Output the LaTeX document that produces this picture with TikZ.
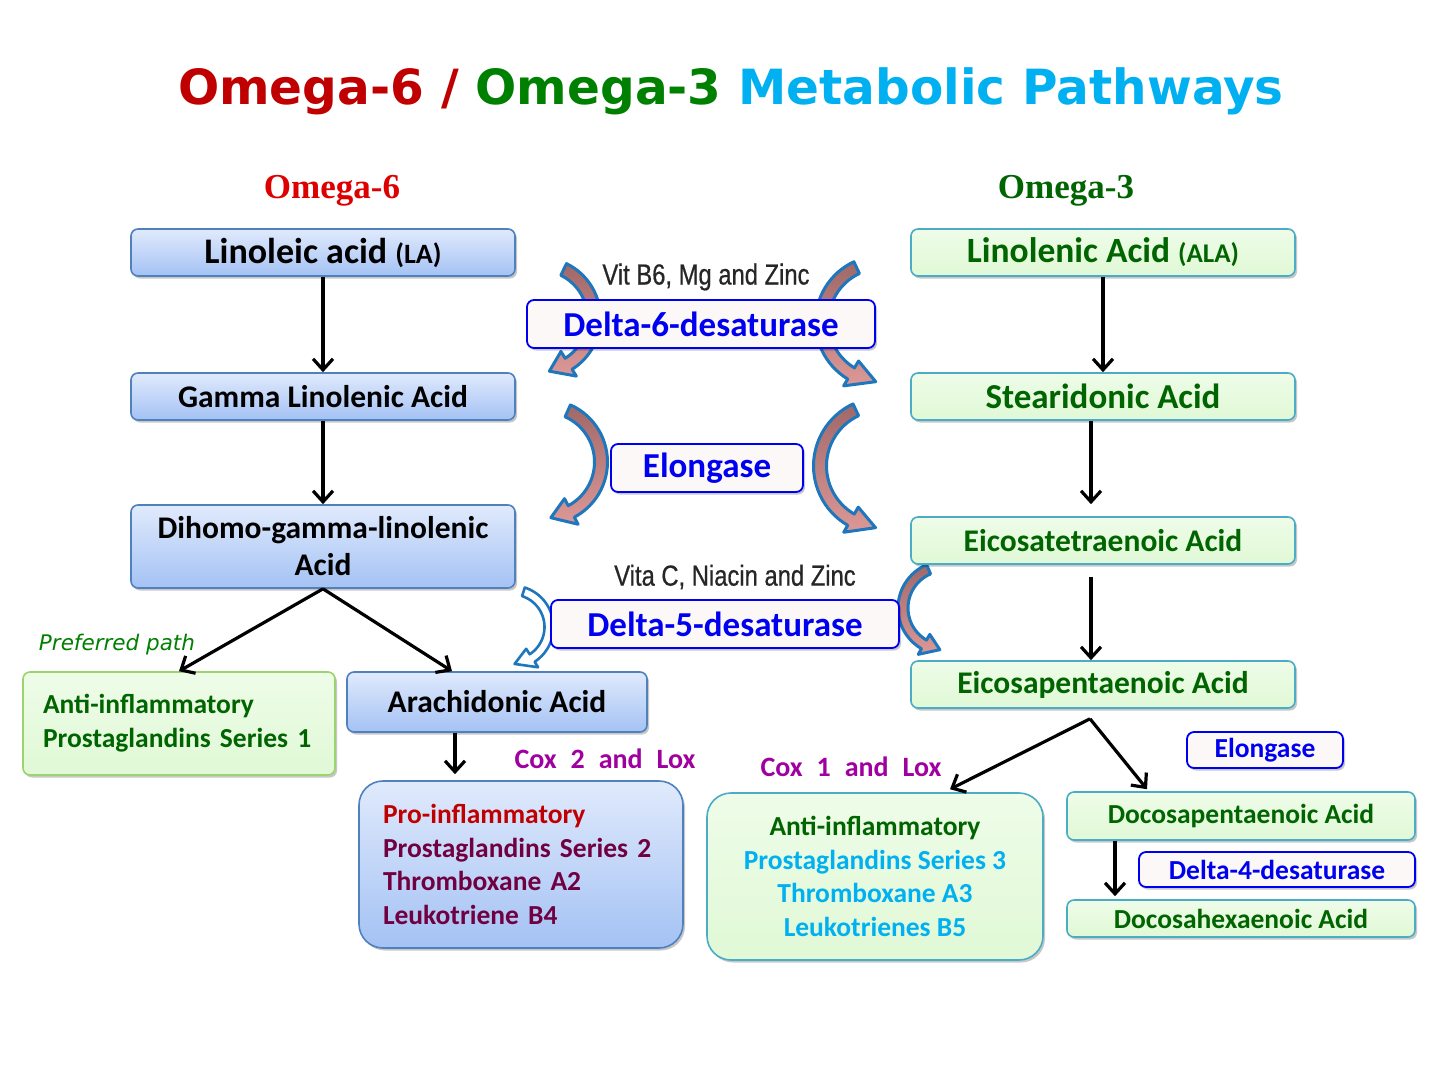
\documentclass[tikz,border=0pt]{standalone}
\usepackage{fontspec}
\setmainfont{Carlito}
\newfontfamily\titlef{DejaVu Sans}
\newfontfamily\headf{Liberation Serif}
\newfontfamily\narrowf[FakeStretch=0.82,FakeBold=0.6]{Liberation Sans}
\usetikzlibrary{shadows,calc,arrows.meta}
\definecolor{ttlred}{RGB}{192,0,0}
\definecolor{ttlgreen}{RGB}{0,128,0}
\definecolor{ttlblue}{RGB}{0,176,240}
\definecolor{hred}{RGB}{222,0,0}
\definecolor{hgreen}{RGB}{0,100,0}
\definecolor{dkgreen}{RGB}{0,100,0}
\definecolor{ltblue}{RGB}{0,176,240}
\definecolor{prored}{RGB}{192,0,0}
\definecolor{maroon}{RGB}{112,0,64}
\definecolor{coxpurple}{RGB}{160,0,160}
\definecolor{prefgreen}{RGB}{0,128,0}
\definecolor{o6border}{RGB}{79,129,189}
\definecolor{o6top}{RGB}{224,234,252}
\definecolor{o6bot}{RGB}{164,194,244}
\definecolor{o3border}{RGB}{75,172,198}
\definecolor{o3top}{RGB}{238,252,232}
\definecolor{o3bot}{RGB}{224,249,214}
\definecolor{lgborder}{RGB}{155,211,110}
\definecolor{enzblue}{RGB}{0,0,240}
\definecolor{enzfill}{RGB}{253,248,248}
\definecolor{arrblue}{RGB}{30,118,188}
\definecolor{arrtop}{RGB}{160,104,104}
\definecolor{arrbot}{RGB}{220,152,150}
\definecolor{vitgray}{RGB}{38,38,38}
\newcommand\carrow[9]{%
 \path[#9] plot[domain=#4:#5,samples=30,variable=\t] ({#1+(#3+#7/2)*cos(\t)},{#2+(#3+#7/2)*sin(\t)})
 -- ({#1+(#3+#8/2)*cos(#5)},{#2+(#3+#8/2)*sin(#5)})
 -- ({#1+#3*cos(#6)},{#2+#3*sin(#6)})
 -- ({#1+(#3-#8/2)*cos(#5)},{#2+(#3-#8/2)*sin(#5)})
 -- plot[domain=#5:#4,samples=30,variable=\t] ({#1+(#3-#7/2)*cos(\t)},{#2+(#3-#7/2)*sin(\t)})
 -- cycle;}
\tikzset{
 box/.style={rectangle, rounded corners=7pt, line width=1.6pt, inner sep=0pt, align=center,
   drop shadow={shadow xshift=2pt, shadow yshift=-2.5pt, fill=black, opacity=0.22}},
 sixbox/.style={box, draw=o6border, top color=o6top, bottom color=o6bot, text=black,
   font=\bfseries\fontsize{32}{38}\selectfont},
 threebox/.style={box, draw=o3border, top color=o3top, bottom color=o3bot, text=dkgreen,
   font=\bfseries\fontsize{32}{38}\selectfont},
 enzbox/.style={box, draw=enzblue, fill=enzfill, text=enzblue, line width=1.8pt,
   font=\bfseries\fontsize{35}{40}\selectfont},
 flow/.style={draw=black, line width=3.2pt, -{Straight Barb[length=11pt,width=20pt]}},
 curvy/.style={draw=arrblue, line width=3pt, line join=round, top color=arrtop, bottom color=arrbot},
 hollow/.style={draw=arrblue, line width=2.6pt, line join=round, fill=white},
}
\begin{document}
\begin{tikzpicture}[x=1pt,y=-1pt]
\useasboundingbox[fill=white] (0,0) rectangle (1433,1080);

% title
\node[anchor=base, font=\titlef\bfseries\fontsize{48.5}{56}\selectfont] (title) at (731,104)
 {\textcolor{ttlred}{Omega-6 / }\textcolor{ttlgreen}{Omega-3 }\textcolor{ttlblue}{Metabolic Pathways}};
\node[anchor=base, font=\headf\bfseries\fontsize{35}{40}\selectfont, text=hred] (h6) at (332,198) {Omega-6};
\node[anchor=base, font=\headf\bfseries\fontsize{35}{40}\selectfont, text=hgreen] (h3) at (1066,198) {Omega-3};

% curved block arrows (behind boxes)
\carrow{540}{318}{54}{-64}{58}{80}{13}{29}{curvy}
\carrow{882}{322}{60}{245}{121}{96}{13}{29}{curvy}
\carrow{545}{462}{56}{-66}{62}{84}{13}{29}{curvy}
\carrow{882}{466}{62}{245}{120}{96}{13}{29}{curvy}
\carrow{512}{627}{37}{-72}{57}{86}{9}{22}{hollow}
\carrow{945}{608}{42}{247}{120}{97}{10}{23}{curvy}

% omega-6 column
\node[sixbox, minimum width=384pt, minimum height=47pt, font=\bfseries\fontsize{36}{40}\selectfont] (LA) at (323,252.5)
 {Linoleic acid {\fontsize{28}{30}\selectfont(LA)}};
\node[sixbox, minimum width=384pt, minimum height=47pt, font=\bfseries\fontsize{31.5}{36}\selectfont] (GLA) at (323,396.5) {Gamma Linolenic Acid};
\node[sixbox, minimum width=384pt, minimum height=83pt, font=\bfseries\fontsize{31.5}{37}\selectfont] (DGLA) at (323,546.5) {Dihomo-gamma-linolenic\\Acid};
\node[box, draw=lgborder, top color=o3top, bottom color=o3bot, minimum width=312pt, minimum height=103pt,
  text width=272pt, inner xsep=20pt, align=left, font=\bfseries\fontsize{27.5}{34}\selectfont, text=dkgreen] (Lanti) at (179,723.5)
 {Anti-inflammatory\\Prostaglandins Series 1};
\node[sixbox, minimum width=300pt, minimum height=60pt, font=\bfseries\fontsize{31.5}{36}\selectfont] (AA) at (497,702) {Arachidonic Acid};
\node[sixbox, rounded corners=24pt, minimum width=324pt, minimum height=167pt, text width=276pt, inner xsep=24pt,
  align=left, font=\bfseries\fontsize{27.5}{33.5}\selectfont] (Pro) at (521,864.5)
 {\textcolor{prored}{Pro-inflammatory}\\\textcolor{maroon}{Prostaglandins Series 2}\\\textcolor{maroon}{Thromboxane A2}\\\textcolor{maroon}{Leukotriene B4}};

% omega-3 column
\node[threebox, minimum width=384pt, minimum height=47pt, font=\bfseries\fontsize{35.5}{40}\selectfont] (ALA) at (1103,252.5)
 {Linolenic Acid {\fontsize{27}{30}\selectfont(ALA)}};
\node[threebox, minimum width=384pt, minimum height=47pt, font=\bfseries\fontsize{35}{40}\selectfont] (SDA) at (1103,396.5) {Stearidonic Acid};
\node[threebox, minimum width=384pt, minimum height=47pt, font=\bfseries\fontsize{31.5}{36}\selectfont] (ETA) at (1103,540.5) {Eicosatetraenoic Acid};
\node[threebox, minimum width=384pt, minimum height=47pt, font=\bfseries\fontsize{31.5}{36}\selectfont] (EPA) at (1103,684.5) {Eicosapentaenoic Acid};
\node[threebox, rounded corners=24pt, minimum width=336pt, minimum height=167pt, font=\bfseries\fontsize{27.5}{33.5}\selectfont] (Ranti) at (875,876.5)
 {\textcolor{dkgreen}{Anti-inflammatory}\\\textcolor{ltblue}{Prostaglandins Series 3}\\\textcolor{ltblue}{Thromboxane A3}\\\textcolor{ltblue}{Leukotrienes B5}};
\node[threebox, minimum width=348pt, minimum height=48pt, font=\bfseries\fontsize{27.5}{32}\selectfont] (DPA) at (1241,816) {Docosapentaenoic Acid};
\node[threebox, minimum width=348pt, minimum height=37pt, font=\bfseries\fontsize{27.5}{32}\selectfont] (DHA) at (1241,918.5) {Docosahexaenoic Acid};

% enzymes
\node[enzbox, minimum width=348pt, minimum height=48pt] (D6) at (701,324) {Delta-6-desaturase};
\node[enzbox, minimum width=192pt, minimum height=48pt] (ElM) at (707,468) {Elongase};
\node[enzbox, minimum width=348pt, minimum height=48pt] (D5) at (725,624) {Delta-5-desaturase};
\node[enzbox, minimum width=156pt, minimum height=36pt, font=\bfseries\fontsize{27.5}{32}\selectfont] (ElS) at (1265,750) {Elongase};
\node[enzbox, minimum width=276pt, minimum height=35pt, font=\bfseries\fontsize{27.5}{32}\selectfont] (D4) at (1277,869.5) {Delta-4-desaturase};

% labels
\node[font=\narrowf\fontsize{29}{32}\selectfont, text=vitgray] (vit6) at (706,277) {Vit B6, Mg and Zinc};
\node[font=\narrowf\fontsize{29}{32}\selectfont, text=vitgray] (vit5) at (735,577) {Vita C, Niacin and Zinc};
\node[font=\titlef\itshape\fontsize{21.5}{26}\selectfont, text=prefgreen] (pref) at (117,645) {Preferred path};
\node[font=\bfseries\fontsize{28}{32}\selectfont, text=coxpurple] (cox2) at (605,759) {Cox\hspace{0.5em}2\hspace{0.5em}and\hspace{0.5em}Lox};
\node[font=\bfseries\fontsize{28}{32}\selectfont, text=coxpurple] (cox1) at (851,767) {Cox\hspace{0.5em}1\hspace{0.5em}and\hspace{0.5em}Lox};

% connectors
\draw[flow] (LA.south) -- (GLA.north);
\draw[flow] (GLA.south) -- (DGLA.north);
\draw[flow] (DGLA.south) -- (Lanti.north);
\draw[flow] (DGLA.south) -- ($(AA.north)+(-45,0)$);
\draw[flow] ($(AA.south)+(-42,0)$) -- ($(Pro.north)+(-66,-6)$);
\draw[flow] (ALA.south) -- (SDA.north);
\draw[flow] ($(SDA.south)+(-12,0)$) -- ($(ETA.north)+(-12,-12)$);
\draw[flow] ($(ETA.south)+(-12,12)$) -- ($(EPA.north)+(-12,0)$);
\coordinate (epafork) at ($(EPA.south)+(-13,10)$);
\draw[flow] (epafork) -- ($(Ranti.north)+(75,-3)$);
\draw[flow] (epafork) -- ($(DPA.north)+(-94,-2)$);
\draw[flow] ($(DPA.south)+(-126,0)$) -- ($(DHA.north)+(-126,-3)$);
\end{tikzpicture}
\end{document}
